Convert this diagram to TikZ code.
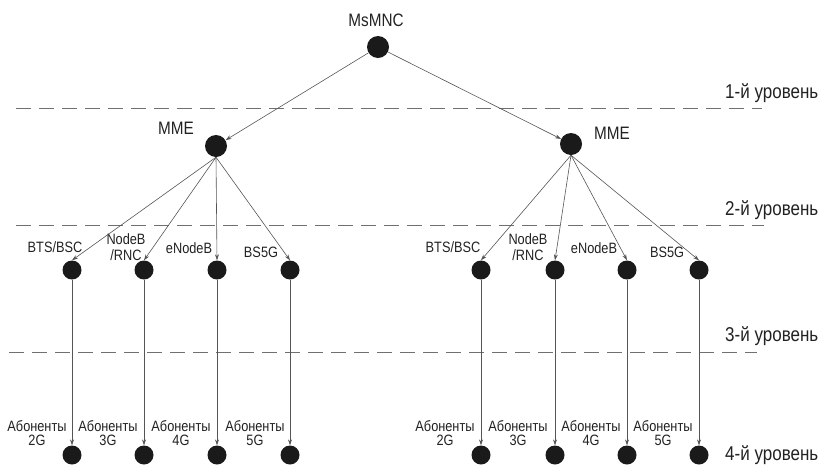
\documentclass[tikz,border=0pt]{standalone}
\usepackage{fontspec}
\setmainfont{Liberation Sans}[FakeStretch=0.85]
\usetikzlibrary{arrows.meta}
\definecolor{dotc}{HTML}{1A1A1A}
\definecolor{linec}{HTML}{555555}
\definecolor{dashc}{HTML}{707070}
\definecolor{txtc}{HTML}{222222}
\begin{document}
\begin{tikzpicture}[x=1pt,y=-1pt,
  dot/.style={circle,fill=dotc,inner sep=0pt,minimum size=19pt},
  bigdot/.style={dot,minimum size=22pt},
  link/.style={draw=linec,line width=0.6pt,-{Stealth[length=6pt,width=4pt]}},
  levelline/.style={draw=dashc,line width=0.8pt,dash pattern=on 15pt off 8pt},
  lvl/.style={anchor=west,inner sep=0pt,font=\fontsize{20}{24}\selectfont,text=txtc},
  lab/.style={inner sep=0pt,font=\fontsize{15}{16}\selectfont,text=txtc},
  big/.style={inner sep=0pt,font=\fontsize{18}{20}\selectfont,text=txtc},
  two/.style={inner sep=0pt,align=center,text=txtc},
  ab/.style={two,font=\fontsize{15}{14}\selectfont}]
\useasboundingbox (0,0) rectangle (824,464);

% level separators
\draw[levelline] (16,108) -- (762,108);
\draw[levelline] (16,225) -- (764,225);
\draw[levelline] (9,352) -- (757,352);
\node[lvl] (l1) at (725,93) {1-й уровень};
\node[lvl] (l2) at (725,210) {2-й уровень};
\node[lvl] (l3) at (725,336) {3-й уровень};
\node[lvl] (l4) at (725,455) {4-й уровень};

% top
\node[bigdot] (ms) at (378,47) {};
\node[big] (msl) at (376,20) {MsMNC};
\node[bigdot] (mL) at (216,146) {};
\node[big] (mLl) at (176,128) {MME};
\node[bigdot] (mR) at (571,144) {};
\node[big] (mRl) at (612,133) {MME};
\draw[link] (ms) -- (mL);
\draw[link] (ms) -- (mR);

% level 3 and 4 nodes
\foreach \n/\x in {L1/72,L2/144,L3/217,L4/290,R1/481,R2/555,R3/627,R4/699}{
  \node[dot] (b\n) at (\x,270) {};
  \node[dot] (s\n) at (\x,455) {};
}

% level 3 labels
\node[lab] (tL1) at (55,247) {BTS/BSC};
\node[two,font=\fontsize{15}{16}\selectfont] (tL2) at (126,247) {NodeB\\/RNC};
\node[lab] (tL3) at (189,248) {eNodeB};
\node[lab] (tL4) at (261,252) {BS5G};
\node[lab] (tR1) at (453,247) {BTS/BSC};
\node[two,font=\fontsize{15}{16}\selectfont] (tR2) at (528,247) {NodeB\\/RNC};
\node[lab] (tR3) at (594,248) {eNodeB};
\node[lab] (tR4) at (667,252) {BS5G};

% level 4 labels
\node[ab] (aL1) at (37,433) {Абоненты\\2G};
\node[ab] (aL2) at (108,433) {Абоненты\\3G};
\node[ab] (aL3) at (181,433) {Абоненты\\4G};
\node[ab] (aL4) at (255,433) {Абоненты\\5G};
\node[ab] (aR1) at (445,433) {Абоненты\\2G};
\node[ab] (aR2) at (518,433) {Абоненты\\3G};
\node[ab] (aR3) at (591,433) {Абоненты\\4G};
\node[ab] (aR4) at (663,433) {Абоненты\\5G};

% connectors
\foreach \i in {1,2,3,4}{
  \draw[link] (mL.south) -- (bL\i.north);
  \draw[link] (mR.south) -- (bR\i.north);
  \draw[link] (bL\i.south) -- (sL\i.north);
  \draw[link] (bR\i.south) -- (sR\i.north);
}
\end{tikzpicture}
\end{document}
